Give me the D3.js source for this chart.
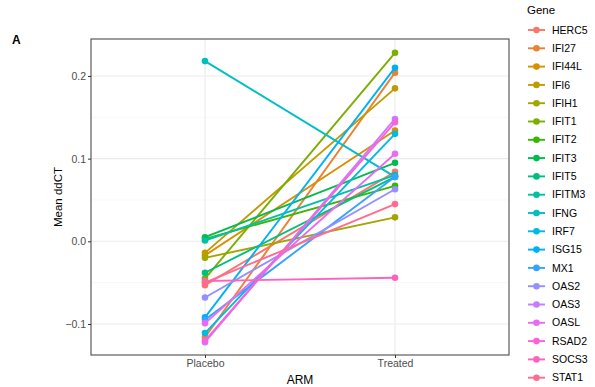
<!DOCTYPE html>
<html>
<head>
<meta charset="utf-8">
<script src="https://cdn.jsdelivr.net/npm/d3@7"></script>
<style>
  body { margin: 0; background: #fff; }
  svg { display: block; font-family: "Liberation Sans", Arial, sans-serif; }
</style>
</head>
<body>
<div id="chart"></div>
<script>
// data
const arms = ["Placebo", "Treated"];
const genes = ["HERC5", "IFI27", "IFI44L", "IFI6", "IFIH1", "IFIT1", "IFIT2", "IFIT3", "IFIT5", "IFITM3",
               "IFNG", "IRF7", "ISG15", "MX1", "OAS2", "OAS3", "OASL", "RSAD2", "SOCS3", "STAT1"];
const placebo = [-0.053, -0.116, -0.017, -0.014, -0.020, -0.045, 0.003, 0.005, -0.038, 0.001,
                 0.218, -0.111, -0.092, -0.095, -0.068, -0.122, -0.099, -0.120, -0.048, -0.050];
const treated = [0.084, 0.204, 0.134, 0.185, 0.029, 0.228, 0.067, 0.095, 0.078, 0.080,
                 0.078, 0.130, 0.210, 0.078, 0.063, 0.148, 0.106, 0.144, -0.044, 0.045];
const geneColors = ["#F8766D", "#EA8331", "#D89000", "#C09B00", "#A3A500", "#7CAE00", "#39B600", "#00BB4E",
                    "#00BF7D", "#00C1A3", "#00BFC4", "#00BAE0", "#00B0F6", "#35A2FF", "#9590FF", "#C77CFF",
                    "#E76BF3", "#FA62DB", "#FF62BC", "#FF6C91"];
const yTicks = [-0.1, 0.0, 0.1, 0.2];
const yMinor = [-0.05, 0.05, 0.15];

const width = 595, height = 387;
const panel = {left: 91, right: 509, top: 39, bottom: 355};

const svg = d3.select("#chart").append("svg")
    .attr("width", width)
    .attr("height", height);

// ggplot-style discrete x with 0.6 expansion
const x = d3.scalePoint()
    .domain(arms)
    .range([panel.left + (panel.right - panel.left) * 0.6 / 2.2,
            panel.right - (panel.right - panel.left) * 0.6 / 2.2]);
const y = d3.scaleLinear()
    .domain([-0.1375, 0.2447])
    .range([panel.bottom, panel.top]);

// grid
const grid = svg.append("g");
grid.selectAll("line.minor").data(yMinor).join("line")
    .attr("x1", panel.left).attr("x2", panel.right)
    .attr("y1", d => y(d)).attr("y2", d => y(d))
    .attr("stroke", "#f2f2f2").attr("stroke-width", 0.6);
grid.selectAll("line.major").data(yTicks).join("line")
    .attr("x1", panel.left).attr("x2", panel.right)
    .attr("y1", d => y(d)).attr("y2", d => y(d))
    .attr("stroke", "#ebebeb").attr("stroke-width", 1.1);
grid.selectAll("line.vx").data(arms).join("line")
    .attr("x1", d => x(d)).attr("x2", d => x(d))
    .attr("y1", panel.top).attr("y2", panel.bottom)
    .attr("stroke", "#ebebeb").attr("stroke-width", 1.1);

// lines + points
const rows = genes.map((g, i) => ({gene: g, color: geneColors[i], vals: [placebo[i], treated[i]]}));

const series = svg.append("g").selectAll("g").data(rows).join("g");
series.append("line")
    .attr("x1", x("Placebo")).attr("x2", x("Treated"))
    .attr("y1", d => y(d.vals[0])).attr("y2", d => y(d.vals[1]))
    .attr("stroke", d => d.color).attr("stroke-width", 1.9);
series.selectAll("circle").data(d => d.vals.map((v, j) => ({v, arm: arms[j], color: d.color}))).join("circle")
    .attr("cx", d => x(d.arm)).attr("cy", d => y(d.v))
    .attr("r", 3.3).attr("fill", d => d.color);

// panel border
svg.append("rect")
    .attr("x", panel.left).attr("y", panel.top)
    .attr("width", panel.right - panel.left).attr("height", panel.bottom - panel.top)
    .attr("fill", "none").attr("stroke", "#4d4d4d").attr("stroke-width", 1.1);

// axes
const yAxis = svg.append("g")
    .attr("transform", `translate(${panel.left},0)`)
    .call(d3.axisLeft(y).tickValues(yTicks).tickFormat(d3.format(".1f")).tickSize(3).tickPadding(2));
const xAxis = svg.append("g")
    .attr("transform", `translate(0,${panel.bottom})`)
    .call(d3.axisBottom(x).tickSize(3).tickPadding(2));
[yAxis, xAxis].forEach(a => {
    a.select(".domain").remove();
    a.selectAll(".tick line").attr("stroke", "#333");
    a.selectAll(".tick text").attr("fill", "#4d4d4d").style("font-size", "10.5px")
        .style("font-family", "Liberation Sans, Arial, sans-serif");
});

// titles
svg.append("text")
    .attr("x", 12).attr("y", 44)
    .style("font-size", "12px").style("font-weight", "bold")
    .text("A");
svg.append("text")
    .attr("transform", `translate(62,${(panel.top + panel.bottom) / 2}) rotate(-90)`)
    .attr("text-anchor", "middle")
    .style("font-size", "11.5px")
    .text("Mean ddCT");
svg.append("text")
    .attr("x", (panel.left + panel.right) / 2).attr("y", 384)
    .attr("text-anchor", "middle")
    .style("font-size", "12px")
    .text("ARM");

// legend
const legend = svg.append("g").attr("transform", "translate(527,0)");
legend.append("text")
    .attr("x", 0).attr("y", 14)
    .style("font-size", "11.5px")
    .text("Gene");
const items = legend.selectAll("g.item").data(rows).join("g")
    .attr("transform", (d, i) => `translate(0,${30 + i * 18.3})`);
items.append("line")
    .attr("x1", 1).attr("x2", 18).attr("y1", 0).attr("y2", 0)
    .attr("stroke", d => d.color).attr("stroke-width", 1.9);
items.append("circle")
    .attr("cx", 9.5).attr("cy", 0).attr("r", 3.3).attr("fill", d => d.color);
items.append("text")
    .attr("x", 25).attr("y", 0).attr("dy", "0.35em")
    .style("font-size", "10.5px")
    .text(d => d.gene);
</script>
</body>
</html>
